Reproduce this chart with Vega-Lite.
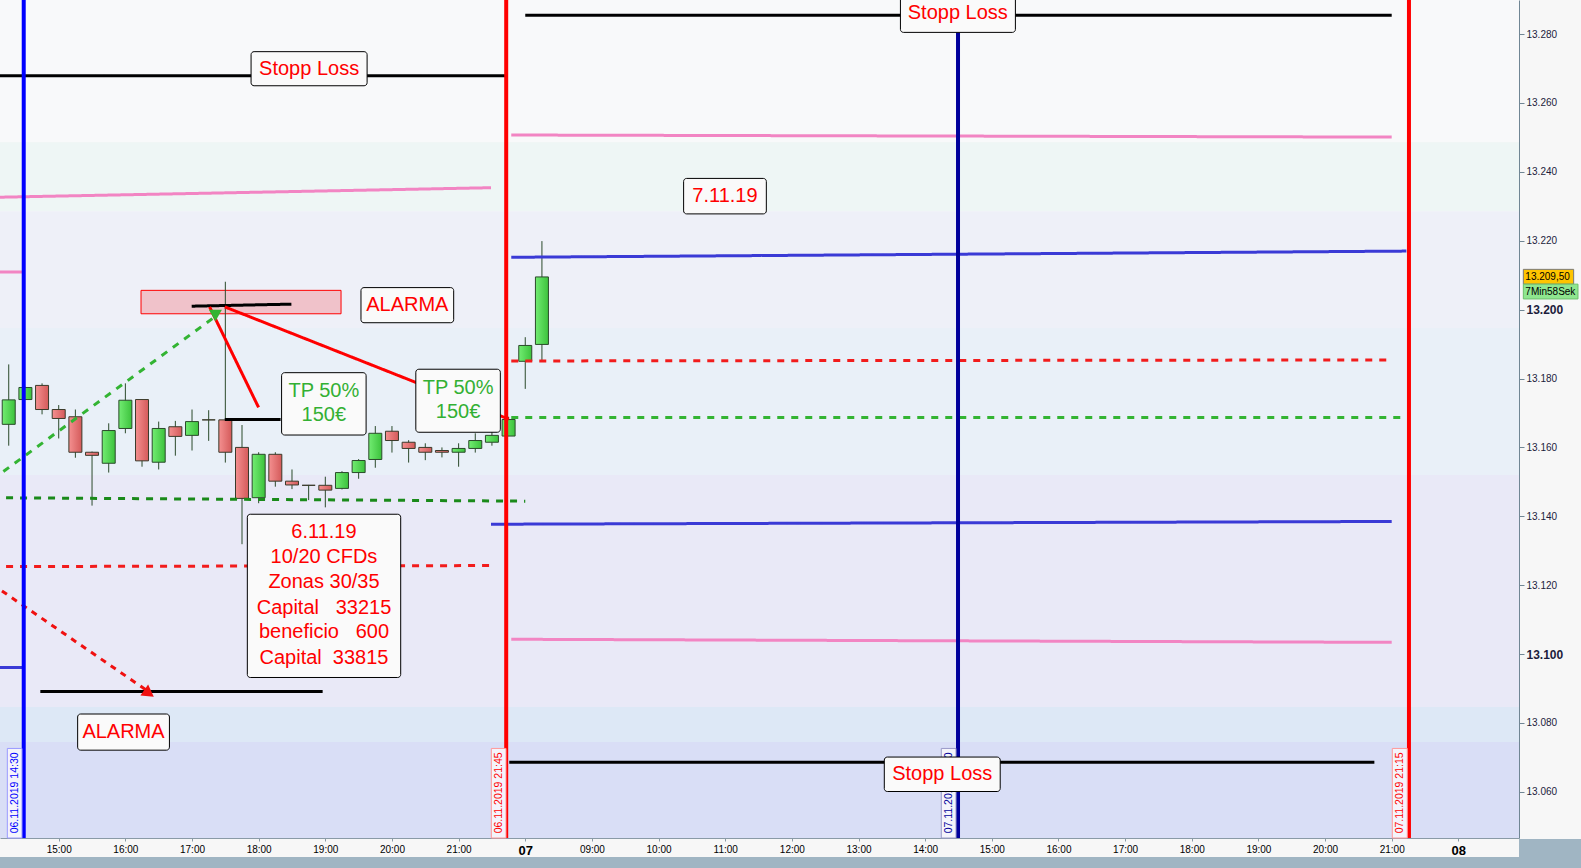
{
  "$schema": "https://vega.github.io/schema/vega-lite/v6.json",
  "width": 1519,
  "height": 838,
  "autosize": {"type": "none"},
  "padding": {"left": 0, "top": 0, "right": 62, "bottom": 30},
  "background": "#f7f7f7",
  "config": {
    "view": {"stroke": null},
    "font": "Liberation Sans",
    "scale": {"continuousPadding": 0},
    "locale": {"number": {"decimal": ",", "thousands": ".", "grouping": [3], "currency": ["", " €"]}}
  },
  "resolve": {"scale": {"color": "independent", "stroke": "independent", "fill": "independent", "strokeDash": "independent"}},
  "datasets": {
    "bands": [
      {"zone": "z1", "p1": 13295.0, "p2": 13248.6},
      {"zone": "z2", "p1": 13248.6, "p2": 13228.6},
      {"zone": "z3", "p1": 13228.6, "p2": 13194.7},
      {"zone": "z4", "p1": 13194.7, "p2": 13152.0},
      {"zone": "z5", "p1": 13152.0, "p2": 13084.6},
      {"zone": "z6", "p1": 13084.6, "p2": 13074.5},
      {"zone": "z7", "p1": 13074.5, "p2": 13046.6}
    ],
    "candles": [
      {"t": 14.25, "o": 13166.7, "hi": 13184.1, "lo": 13160.5, "c": 13173.8},
      {"t": 14.5, "o": 13173.9, "hi": 13177.6, "lo": 13173.9, "c": 13177.4},
      {"t": 14.75, "o": 13178.0, "hi": 13178.6, "lo": 13169.6, "c": 13171.0},
      {"t": 15.0, "o": 13171.0, "hi": 13172.3, "lo": 13162.6, "c": 13168.4},
      {"t": 15.25, "o": 13168.9, "hi": 13171.0, "lo": 13157.0, "c": 13158.6},
      {"t": 15.5, "o": 13158.6, "hi": 13158.8, "lo": 13143.1, "c": 13157.7},
      {"t": 15.75, "o": 13155.4, "hi": 13167.0, "lo": 13152.7, "c": 13164.9},
      {"t": 16.0, "o": 13165.5, "hi": 13178.6, "lo": 13164.1, "c": 13173.7},
      {"t": 16.25, "o": 13173.9, "hi": 13174.0, "lo": 13154.4, "c": 13156.1},
      {"t": 16.5, "o": 13155.7, "hi": 13167.5, "lo": 13153.6, "c": 13165.5},
      {"t": 16.75, "o": 13166.0, "hi": 13167.7, "lo": 13157.6, "c": 13163.2},
      {"t": 17.0, "o": 13163.5, "hi": 13171.0, "lo": 13159.1, "c": 13167.5},
      {"t": 17.25, "o": 13168.0, "hi": 13170.8, "lo": 13161.9, "c": 13168.0},
      {"t": 17.5, "o": 13168.0, "hi": 13208.1, "lo": 13155.6, "c": 13158.6},
      {"t": 17.75, "o": 13160.0, "hi": 13166.5, "lo": 13131.9, "c": 13145.2},
      {"t": 18.0, "o": 13145.4, "hi": 13158.6, "lo": 13143.8, "c": 13158.0},
      {"t": 18.25, "o": 13158.0, "hi": 13158.6, "lo": 13148.6, "c": 13150.2},
      {"t": 18.5, "o": 13150.2, "hi": 13153.6, "lo": 13147.9, "c": 13149.1},
      {"t": 18.75, "o": 13149.0, "hi": 13149.1, "lo": 13144.7, "c": 13149.0},
      {"t": 19.0, "o": 13149.0, "hi": 13151.5, "lo": 13142.6, "c": 13147.6},
      {"t": 19.25, "o": 13148.1, "hi": 13153.1, "lo": 13147.8, "c": 13152.7},
      {"t": 19.5, "o": 13152.7, "hi": 13156.6, "lo": 13150.9, "c": 13156.2},
      {"t": 19.75, "o": 13156.5, "hi": 13166.2, "lo": 13154.1, "c": 13164.1},
      {"t": 20.0, "o": 13164.7, "hi": 13166.2, "lo": 13158.5, "c": 13162.0},
      {"t": 20.25, "o": 13161.5, "hi": 13162.1, "lo": 13155.6, "c": 13159.7},
      {"t": 20.5, "o": 13160.0, "hi": 13161.2, "lo": 13156.3, "c": 13158.6},
      {"t": 20.75, "o": 13159.1, "hi": 13160.0, "lo": 13157.1, "c": 13158.6},
      {"t": 21.0, "o": 13158.6, "hi": 13161.2, "lo": 13154.4, "c": 13159.7},
      {"t": 21.25, "o": 13159.7, "hi": 13164.1, "lo": 13158.5, "c": 13162.0},
      {"t": 21.5, "o": 13161.5, "hi": 13165.0, "lo": 13160.5, "c": 13163.5},
      {"t": 21.75, "o": 13163.3, "hi": 13168.9, "lo": 13163.3, "c": 13168.1},
      {"t": 22.0, "o": 13185.0, "hi": 13192.0, "lo": 13177.0, "c": 13189.6},
      {"t": 22.25, "o": 13189.9, "hi": 13219.9, "lo": 13185.0, "c": 13209.5}
    ],
    "alarmZone": [
      {"t1": 16.235, "t2": 19.236, "p1": 13205.6, "p2": 13198.8}
    ],
    "lines": [
      {"kind": "stop", "t1": 14.0, "p1": 13267.9, "t2": 21.73, "p2": 13267.9},
      {"kind": "stop", "t1": 22.0, "p1": 13285.5, "t2": 35.0, "p2": 13285.5},
      {"kind": "stop", "t1": 21.76, "p1": 13068.6, "t2": 34.74, "p2": 13068.6},
      {"kind": "target", "t1": 14.0, "p1": 13232.6, "t2": 21.486, "p2": 13235.4},
      {"kind": "target", "t1": 14.0, "p1": 13210.9, "t2": 14.46, "p2": 13210.9},
      {"kind": "target", "t1": 21.79, "p1": 13250.7, "t2": 35.0, "p2": 13250.1},
      {"kind": "target", "t1": 21.79, "p1": 13104.3, "t2": 35.0, "p2": 13103.4},
      {"kind": "zone", "t1": 14.0, "p1": 13096.1, "t2": 14.46, "p2": 13096.1},
      {"kind": "zone", "t1": 21.79, "p1": 13215.2, "t2": 35.22, "p2": 13217.0},
      {"kind": "zone", "t1": 21.486, "p1": 13137.7, "t2": 35.0, "p2": 13138.5},
      {"kind": "entry", "t1": 14.0, "p1": 13125.4, "t2": 21.486, "p2": 13125.7},
      {"kind": "entry", "t1": 21.79, "p1": 13185.1, "t2": 35.0, "p2": 13185.4},
      {"kind": "tp6", "t1": 14.0, "p1": 13145.4, "t2": 22.0, "p2": 13144.4},
      {"kind": "tp7", "t1": 21.79, "p1": 13168.7, "t2": 35.22, "p2": 13168.7},
      {"kind": "marker", "t1": 16.995, "p1": 13201.0, "t2": 18.491, "p2": 13201.6},
      {"kind": "marker", "t1": 17.492, "p1": 13168.1, "t2": 18.329, "p2": 13168.1},
      {"kind": "marker", "t1": 14.724, "p1": 13089.1, "t2": 18.96, "p2": 13089.1},
      {"kind": "arrowUp", "t1": 14.0, "p1": 13150.6, "t2": 17.327, "p2": 13197.7},
      {"kind": "arrowDown", "t1": 14.0, "p1": 13120.3, "t2": 16.355, "p2": 13089.0},
      {"kind": "trend", "t1": 17.264, "p1": 13200.8, "t2": 17.999, "p2": 13171.6},
      {"kind": "trend", "t1": 17.492, "p1": 13200.8, "t2": 21.753, "p2": 13168.2}
    ],
    "verticals": [
      {"kind": "d6a", "t": 14.475},
      {"kind": "d6b", "t": 21.714},
      {"kind": "d7a", "t": 28.493},
      {"kind": "d7b", "t": 35.259}
    ],
    "dateTags": [
      {"kind": "d6a", "t1": 14.229, "t2": 14.449, "tc": 14.339, "p1": 13072.6, "p2": 13046.6, "pc": 13059.7, "label": "06.11.2019 14:30"},
      {"kind": "d6b", "t1": 21.491, "t2": 21.711, "tc": 21.601, "p1": 13072.6, "p2": 13046.6, "pc": 13059.7, "label": "06.11.2019 21:45"},
      {"kind": "d7a", "t1": 28.242, "t2": 28.463, "tc": 28.352, "p1": 13072.6, "p2": 13046.6, "pc": 13059.7, "label": "07.11.2019 14:30"},
      {"kind": "d7b", "t1": 35.009, "t2": 35.234, "tc": 35.121, "p1": 13072.6, "p2": 13046.6, "pc": 13059.7, "label": "07.11.2019 21:15"}
    ],
    "boxes": [
      {"t1": 17.886, "t2": 19.627, "p1": 13274.9, "p2": 13265.0},
      {"t1": 27.629, "t2": 29.354, "p1": 13291.0, "p2": 13280.5},
      {"t1": 27.387, "t2": 29.126, "p1": 13070.1, "p2": 13060.1},
      {"t1": 24.376, "t2": 25.617, "p1": 13238.1, "p2": 13227.8},
      {"t1": 19.535, "t2": 20.926, "p1": 13206.4, "p2": 13196.2},
      {"t1": 15.284, "t2": 16.661, "p1": 13082.6, "p2": 13072.1},
      {"t1": 18.344, "t2": 19.612, "p1": 13181.7, "p2": 13163.6},
      {"t1": 20.358, "t2": 21.626, "p1": 13182.7, "p2": 13164.4},
      {"t1": 17.83, "t2": 20.131, "p1": 13140.6, "p2": 13093.2}
    ],
    "boxText": [
      {"kind": "alert", "tc": 18.757, "pc": 13269.95, "label": "Stopp Loss"},
      {"kind": "alert", "tc": 28.49, "pc": 13286.0, "label": "Stopp Loss"},
      {"kind": "alert", "tc": 28.256, "pc": 13065.1, "label": "Stopp Loss"},
      {"kind": "alert", "tc": 24.996, "pc": 13233.0, "label": "7.11.19"},
      {"kind": "alert", "tc": 20.23, "pc": 13201.3, "label": "ALARMA"},
      {"kind": "alert", "tc": 15.972, "pc": 13077.4, "label": "ALARMA"},
      {"kind": "tp", "tc": 18.978, "pc": 13176.4, "label": "TP 50%"},
      {"kind": "tp", "tc": 18.978, "pc": 13169.4, "label": "150€"},
      {"kind": "tp", "tc": 20.992, "pc": 13177.2, "label": "TP 50%"},
      {"kind": "tp", "tc": 20.992, "pc": 13170.2, "label": "150€"},
      {"kind": "alert", "tc": 18.98, "pc": 13135.3, "label": "6.11.19"},
      {"kind": "alert", "tc": 18.98, "pc": 13128.1, "label": "10/20 CFDs"},
      {"kind": "alert", "tc": 18.98, "pc": 13120.8, "label": "Zonas 30/35"},
      {"kind": "alert", "tc": 18.98, "pc": 13113.5, "label": "Capital\u00a0\u00a0\u00a033215"},
      {"kind": "alert", "tc": 18.98, "pc": 13106.3, "label": "beneficio\u00a0\u00a0\u00a0600"},
      {"kind": "alert", "tc": 18.98, "pc": 13099.0, "label": "Capital\u00a0\u00a033815"}
    ],
    "priceTags": [
      {"kind": "price", "t1": 36.975, "t2": 37.73, "p1": 13211.7, "p2": 13207.4, "pc": 13209.55, "label": "13.209,50"},
      {"kind": "timer", "t1": 36.975, "t2": 37.795, "p1": 13207.4, "p2": 13203.1, "pc": 13205.25, "label": "7Min58Sek"}
    ],
    "toolbar": [
      {"t1": 13.0, "t2": 38.0, "p1": 13041.1, "p2": 13020.0},
      {"t1": 36.91, "t2": 38.0, "p1": 13046.3, "p2": 13020.0}
    ]
  },
  "layer": [
    {
      "data": {"name": "bands"},
      "mark": {"type": "rect", "clip": true},
      "encoding": {
        "y": {"field": "p1", "type": "quantitative", "title": null,
          "scale": {"domain": [13046.6, 13289.9], "nice": false, "zero": false, "padding": 0},
          "axis": {
            "orient": "right",
            "values": [13060, 13080, 13100, 13120, 13140, 13160, 13180, 13200, 13220, 13240, 13260, 13280],
            "format": ",.0f",
            "labelFontSize": {"condition": {"test": "datum.value == 13200 || datum.value == 13100", "value": 12}, "value": 10},
            "labelFontWeight": {"condition": {"test": "datum.value == 13200 || datum.value == 13100", "value": "bold"}, "value": "normal"},
            "labelColor": "#1c1c3c",
            "tickSize": 5,
            "tickColor": "#708694",
            "domainColor": "#708694",
            "grid": false,
            "title": null
          }},
        "y2": {"field": "p2"},
        "color": {"field": "zone", "type": "nominal", "legend": null,
          "scale": {"domain": ["z1", "z2", "z3", "z4", "z5", "z6", "z7"],
                    "range": ["#f8f9fa", "#eef6f5", "#eef0f8", "#e9f0f8", "#e9e9f7", "#dde8f6", "#d9def6"]}}
      }
    },
    {
      "data": {"name": "alarmZone"},
      "mark": {"type": "rect", "fill": "#f0c2ca", "stroke": "#ff0000", "strokeWidth": 1},
      "encoding": {
        "x": {"field": "t1", "type": "quantitative", "title": null, "scale": {"domain": [14.119, 36.91], "nice": false, "zero": false, "padding": 0}},
        "x2": {"field": "t2"},
        "y": {"field": "p1", "type": "quantitative", "title": null, "scale": {"domain": [13046.6, 13289.9], "nice": false, "zero": false, "padding": 0}},
        "y2": {"field": "p2"}
      }
    },
    {
      "data": {"name": "candles"},
      "mark": {"type": "rule", "color": "#2b4a2b", "strokeWidth": 1},
      "encoding": {
        "x": {"field": "t", "type": "quantitative", "title": null,
          "scale": {"domain": [14.119, 36.91], "nice": false, "zero": false, "padding": 0},
          "axis": {
            "orient": "bottom",
            "values": [14, 15, 16, 17, 18, 19, 20, 21, 22, 23, 24, 25, 26, 27, 28, 29, 30, 31, 32, 33, 34, 35, 36],
            "labelExpr": "datum.value == 22 ? '07' : datum.value == 36 ? '08' : (((datum.value < 22 ? datum.value : datum.value - 14) < 10) ? '0' : '') + (datum.value < 22 ? datum.value : datum.value - 14) + ':00'",
            "labelFont": "Liberation Sans",
            "labelFontSize": {"condition": {"test": "datum.value == 22 || datum.value == 36", "value": 13}, "value": 10},
            "labelFontWeight": {"condition": {"test": "datum.value == 22 || datum.value == 36", "value": "bold"}, "value": "normal"},
            "labelColor": "#000000",
            "labelOverlap": false,
            "labelFlush": false,
            "labelBound": false,
            "labelPadding": 3,
            "tickSize": 3,
            "tickColor": "#8a9aa6",
            "domainColor": "#8a9aa6",
            "grid": false,
            "title": null
          }},
        "y": {"field": "lo", "type": "quantitative", "title": null, "scale": {"domain": [13046.6, 13289.9], "nice": false, "zero": false, "padding": 0}},
        "y2": {"field": "hi"}
      }
    },
    {
      "data": {"name": "candles"},
      "transform": [{"filter": "datum.c > datum.o"}],
      "mark": {"type": "bar", "size": 13, "stroke": "#2b4a2b", "strokeWidth": 1,
        "fill": {"gradient": "linear", "x1": 0, "y1": 0, "x2": 1, "y2": 0,
          "stops": [{"offset": 0, "color": "#72ec72"}, {"offset": 1, "color": "#3cc23c"}]}},
      "encoding": {
        "x": {"field": "t", "type": "quantitative", "title": null, "scale": {"domain": [14.119, 36.91], "nice": false, "zero": false, "padding": 0}},
        "y": {"field": "o", "type": "quantitative", "title": null, "scale": {"domain": [13046.6, 13289.9], "nice": false, "zero": false, "padding": 0}},
        "y2": {"field": "c"}
      }
    },
    {
      "data": {"name": "candles"},
      "transform": [{"filter": "datum.c <= datum.o"}],
      "mark": {"type": "bar", "size": 13, "stroke": "#3a3a2a", "strokeWidth": 1,
        "fill": {"gradient": "linear", "x1": 0, "y1": 0, "x2": 1, "y2": 0,
          "stops": [{"offset": 0, "color": "#f49090"}, {"offset": 1, "color": "#d45a5a"}]}},
      "encoding": {
        "x": {"field": "t", "type": "quantitative", "title": null, "scale": {"domain": [14.119, 36.91], "nice": false, "zero": false, "padding": 0}},
        "y": {"field": "o", "type": "quantitative", "title": null, "scale": {"domain": [13046.6, 13289.9], "nice": false, "zero": false, "padding": 0}},
        "y2": {"field": "c"}
      }
    },
    {
      "data": {"name": "lines"},
      "mark": {"type": "rule", "strokeWidth": 3, "clip": true},
      "encoding": {
        "x": {"field": "t1", "type": "quantitative", "title": null, "scale": {"domain": [14.119, 36.91], "nice": false, "zero": false, "padding": 0}},
        "x2": {"field": "t2"},
        "y": {"field": "p1", "type": "quantitative", "title": null, "scale": {"domain": [13046.6, 13289.9], "nice": false, "zero": false, "padding": 0}},
        "y2": {"field": "p2"},
        "color": {"field": "kind", "type": "nominal", "legend": null,
          "scale": {"domain": ["stop", "target", "zone", "entry", "tp6", "tp7", "marker", "arrowUp", "arrowDown", "trend"],
                    "range": ["#000000", "#f285c3", "#3a3ad6", "#f21c1c", "#1a8a1a", "#33b433", "#000000", "#33b433", "#f01010", "#ff0000"]}},
        "strokeDash": {"field": "kind", "type": "nominal", "legend": null,
          "scale": {"domain": ["stop", "target", "zone", "entry", "tp6", "tp7", "marker", "arrowUp", "arrowDown", "trend"],
                    "range": [[1, 0], [1, 0], [1, 0], [7, 7], [7, 7], [7, 7], [1, 0], [7, 7], [6, 6], [1, 0]]}}
      }
    },
    {
      "data": {"values": [{"kind": "arrowUp", "t": 17.351, "p": 13198.3}]},
      "mark": {"type": "point", "shape": "triangle-down", "size": 170, "filled": true, "opacity": 1, "color": "#33b433"},
      "encoding": {
        "x": {"field": "t", "type": "quantitative", "title": null, "scale": {"domain": [14.119, 36.91], "nice": false, "zero": false, "padding": 0}},
        "y": {"field": "p", "type": "quantitative", "title": null, "scale": {"domain": [13046.6, 13289.9], "nice": false, "zero": false, "padding": 0}}
      }
    },
    {
      "data": {"values": [{"kind": "arrowDown", "t": 16.355, "p": 13088.6}]},
      "mark": {"type": "point", "shape": "triangle-right", "size": 180, "filled": true, "opacity": 1, "color": "#f01010", "angle": 35},
      "encoding": {
        "x": {"field": "t", "type": "quantitative", "title": null, "scale": {"domain": [14.119, 36.91], "nice": false, "zero": false, "padding": 0}},
        "y": {"field": "p", "type": "quantitative", "title": null, "scale": {"domain": [13046.6, 13289.9], "nice": false, "zero": false, "padding": 0}}
      }
    },
    {
      "data": {"name": "verticals"},
      "mark": {"type": "rule", "strokeWidth": 4},
      "encoding": {
        "x": {"field": "t", "type": "quantitative", "title": null, "scale": {"domain": [14.119, 36.91], "nice": false, "zero": false, "padding": 0}},
        "color": {"field": "kind", "type": "nominal", "legend": null,
          "scale": {"domain": ["d6a", "d6b", "d7a", "d7b"], "range": ["#0000ff", "#ff0000", "#00009c", "#ff0000"]}}
      }
    },
    {
      "data": {"name": "dateTags"},
      "mark": {"type": "rect", "fill": "#f4f4fb", "strokeWidth": 1},
      "encoding": {
        "x": {"field": "t1", "type": "quantitative", "title": null, "scale": {"domain": [14.119, 36.91], "nice": false, "zero": false, "padding": 0}},
        "x2": {"field": "t2"},
        "y": {"field": "p1", "type": "quantitative", "title": null, "scale": {"domain": [13046.6, 13289.9], "nice": false, "zero": false, "padding": 0}},
        "y2": {"field": "p2"},
        "stroke": {"field": "kind", "type": "nominal", "legend": null,
          "scale": {"domain": ["d6a", "d6b", "d7a", "d7b"], "range": ["#9a9aff", "#ff9a9a", "#9a9ac8", "#ff9a9a"]}}
      }
    },
    {
      "data": {"name": "dateTags"},
      "mark": {"type": "text", "angle": 270, "align": "center", "baseline": "middle", "font": "Liberation Sans", "fontSize": 10.5},
      "encoding": {
        "x": {"field": "tc", "type": "quantitative", "title": null, "scale": {"domain": [14.119, 36.91], "nice": false, "zero": false, "padding": 0}},
        "y": {"field": "pc", "type": "quantitative", "title": null, "scale": {"domain": [13046.6, 13289.9], "nice": false, "zero": false, "padding": 0}},
        "text": {"field": "label"},
        "color": {"field": "kind", "type": "nominal", "legend": null,
          "scale": {"domain": ["d6a", "d6b", "d7a", "d7b"], "range": ["#0000ff", "#ff0000", "#00009c", "#ff0000"]}}
      }
    },
    {
      "data": {"name": "boxes"},
      "mark": {"type": "rect", "fill": "#fafafa", "stroke": "#000000", "strokeWidth": 1, "cornerRadius": 3, "clip": true},
      "encoding": {
        "x": {"field": "t1", "type": "quantitative", "title": null, "scale": {"domain": [14.119, 36.91], "nice": false, "zero": false, "padding": 0}},
        "x2": {"field": "t2"},
        "y": {"field": "p1", "type": "quantitative", "title": null, "scale": {"domain": [13046.6, 13289.9], "nice": false, "zero": false, "padding": 0}},
        "y2": {"field": "p2"}
      }
    },
    {
      "data": {"name": "boxText"},
      "mark": {"type": "text", "align": "center", "baseline": "middle", "font": "Liberation Sans", "fontSize": 20},
      "encoding": {
        "x": {"field": "tc", "type": "quantitative", "title": null, "scale": {"domain": [14.119, 36.91], "nice": false, "zero": false, "padding": 0}},
        "y": {"field": "pc", "type": "quantitative", "title": null, "scale": {"domain": [13046.6, 13289.9], "nice": false, "zero": false, "padding": 0}},
        "text": {"field": "label"},
        "color": {"field": "kind", "type": "nominal", "legend": null,
          "scale": {"domain": ["alert", "tp"], "range": ["#ff0000", "#33b033"]}}
      }
    },
    {
      "data": {"name": "priceTags"},
      "mark": {"type": "rect", "strokeWidth": 1},
      "encoding": {
        "x": {"field": "t1", "type": "quantitative", "title": null, "scale": {"domain": [14.119, 36.91], "nice": false, "zero": false, "padding": 0}},
        "x2": {"field": "t2"},
        "y": {"field": "p1", "type": "quantitative", "title": null, "scale": {"domain": [13046.6, 13289.9], "nice": false, "zero": false, "padding": 0}},
        "y2": {"field": "p2"},
        "fill": {"field": "kind", "type": "nominal", "legend": null,
          "scale": {"domain": ["price", "timer"], "range": ["#ffc400", "#8fe68f"]}},
        "stroke": {"field": "kind", "type": "nominal", "legend": null,
          "scale": {"domain": ["price", "timer"], "range": ["#7a7a7a", "#6cbf6c"]}}
      }
    },
    {
      "data": {"name": "priceTags"},
      "mark": {"type": "text", "align": "left", "baseline": "middle", "dx": 2, "font": "Liberation Sans", "fontSize": 10, "color": "#000000"},
      "encoding": {
        "x": {"field": "t1", "type": "quantitative", "title": null, "scale": {"domain": [14.119, 36.91], "nice": false, "zero": false, "padding": 0}},
        "y": {"field": "pc", "type": "quantitative", "title": null, "scale": {"domain": [13046.6, 13289.9], "nice": false, "zero": false, "padding": 0}},
        "text": {"field": "label"}
      }
    },
    {
      "data": {"name": "toolbar"},
      "mark": {"type": "rect", "fill": "#a0b5c3"},
      "encoding": {
        "x": {"field": "t1", "type": "quantitative", "title": null, "scale": {"domain": [14.119, 36.91], "nice": false, "zero": false, "padding": 0}},
        "x2": {"field": "t2"},
        "y": {"field": "p1", "type": "quantitative", "title": null, "scale": {"domain": [13046.6, 13289.9], "nice": false, "zero": false, "padding": 0}},
        "y2": {"field": "p2"}
      }
    }
  ]
}
